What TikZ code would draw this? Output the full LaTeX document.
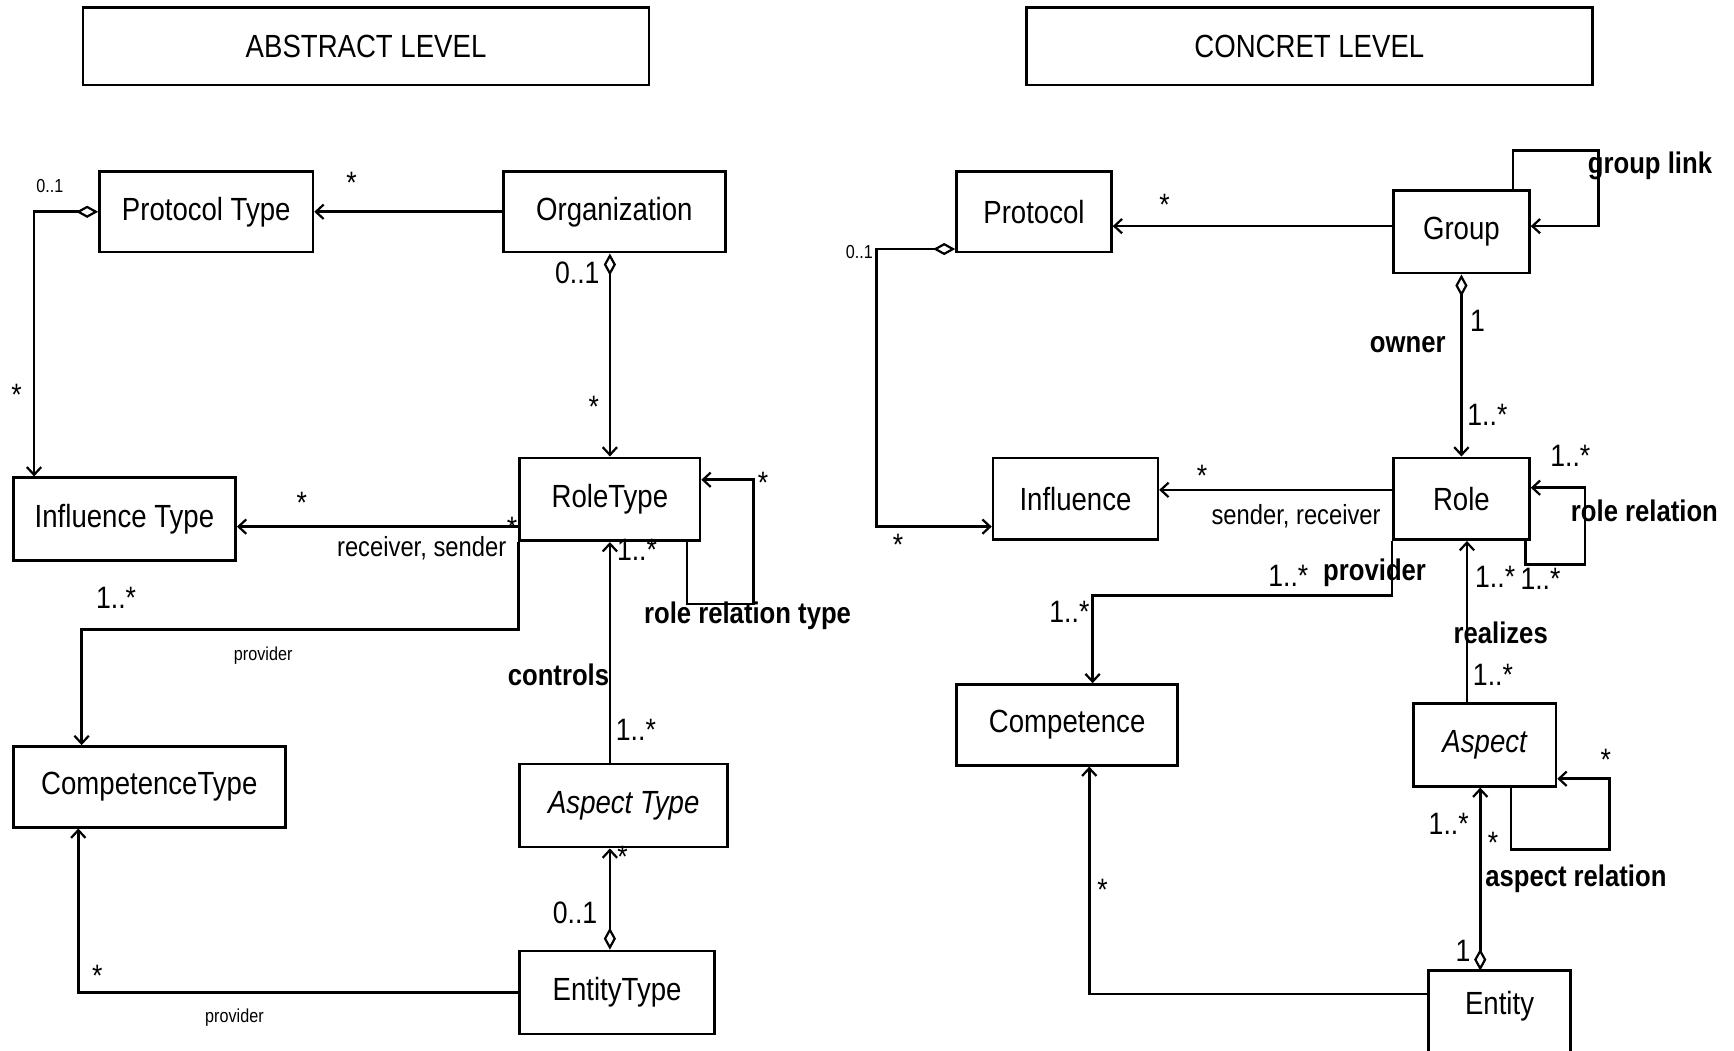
\documentclass[tikz,border=0pt]{standalone}
\usepackage{fontspec}
\setmainfont{Liberation Sans}[FakeStretch=0.86]
\usetikzlibrary{arrows.meta,calc}

\begin{document}
\begin{tikzpicture}[x=1pt,y=-1pt,
  every node/.style={inner sep=0pt},
  box/.style={draw, line width=2.4pt, inner sep=0pt, font=\fontsize{29}{32}\selectfont},
  lab/.style={font=\fontsize{28}{30}\selectfont},
  small/.style={font=\fontsize{17}{19}\selectfont},
  rel/.style={font=\fontsize{27}{30}\selectfont\bfseries},
  assoc/.style={line width=2.4pt},
  nav/.style={assoc, -{Straight Barb[length=7pt,width=13pt,line width=2pt]}},
  agg/.style={assoc, {Diamond[open,length=20pt,width=11pt,line width=2pt]}-{Straight Barb[length=7pt,width=13pt,line width=2pt]}},
]
\useasboundingbox (0,0) rectangle (1568,950);

% level headings
\node[box, minimum width=512pt, minimum height=70pt] (abs) at (331,42) {ABSTRACT LEVEL};
\node[box, minimum width=512pt, minimum height=70pt] (con) at (1184,42) {CONCRET LEVEL};

% ---------------- abstract level classes ----------------
\node[box, minimum width=193pt, minimum height=73pt] (pt)  at (186.5,191.5) {Protocol Type};
\node[box, minimum width=201pt, minimum height=73pt] (org) at (555.5,191.5) {Organization};
\node[box, minimum width=201pt, minimum height=75pt] (it)  at (112.5,469.5) {Influence Type};
\node[box, minimum width=163pt, minimum height=75pt] (rt)  at (551.5,451.5) {RoleType};
\node[box, minimum width=246pt, minimum height=73pt] (ct)  at (135,711.5) {CompetenceType};
\node[box, minimum width=188pt, minimum height=75pt] (at)  at (564,728.5) {\itshape Aspect Type};
\node[box, minimum width=176pt, minimum height=75pt] (et)  at (558,897.5) {EntityType};

% ---------------- concrete level classes ----------------
\node[box, minimum width=140pt, minimum height=73pt] (pr)  at (935,191.5) {Protocol};
\node[box, minimum width=123pt, minimum height=75pt] (gr)  at (1321.5,209.5) {Group};
\node[box, minimum width=149pt, minimum height=74pt] (inf) at (972.5,451) {Influence};
\node[box, minimum width=123pt, minimum height=74pt] (ro)  at (1321.5,451) {Role};
\node[box, minimum width=200pt, minimum height=73pt] (co)  at (965,655.5) {Competence};
\node[box, minimum width=129pt, minimum height=75pt] (as)  at (1342.5,673.5) {\itshape Aspect};
\node[box, draw=none, minimum width=126pt, minimum height=62pt] (en) at (1356,910) {Entity};
\draw[assoc] ($(en.south west)+(0,60)$) -- (en.north west) -- (en.north east) -- ($(en.south east)+(0,60)$);

% ---------------- abstract level associations ----------------
\draw[nav] (org.west) -- (pt.east);
\draw[agg] (pt.west) -| ($(it.north west)+(20,0)$);
\draw[agg] (rt.north |- org.south) -- (rt.north);
\draw[nav] ($(rt.south west)+(0,-14)$) coordinate (rtl) -- (rtl -| it.east);
\draw[nav] (rt.south west) -- ++(0,79) -| ($(ct.north west)+(63,0)$);
\draw[nav] (rt.south |- at.north) -- (rt.south);
\draw[nav] ($(rt.south east)+(-13,0)$) |- ++(60,56) |- ($(rt.north east)+(0,21)$);
\draw[agg] (rt.south |- et.north) -- (rt.south |- at.south);
\draw[nav] (et.west) -| ($(ct.south west)+(60,0)$);

% ---------------- concrete level associations ----------------
\coordinate (grl) at ($(gr.west)+(0,-5)$);
\coordinate (rol) at ($(ro.west)+(0,-8)$);
\coordinate (ros) at ($(ro.south)+(5,0)$);
\coordinate (asb) at ($(as.south)+(-4,0)$);
\draw[nav] (grl) -- (grl -| pr.east);
\draw[nav] ($(gr.north east)+(-16,0)$) |- ++(77,-35) |- ($(gr.east)+(0,-5)$);
\draw[agg] ($(pr.south west)+(0,-4)$) -- ++(-71,0) |- ($(inf.south west)+(0,-13)$);
\draw[nav] (rol) -- (rol -| inf.east);
\draw[agg] (gr.south) -- (ro.north);
\draw[nav] ($(ro.south east)+(-5,0)$) |- ++(54,21) |- ($(ro.east)+(0,-10)$);
\draw[nav] (ro.south west) -- ++(0,49) -| ($(co.north)+(23,0)$);
\draw[nav] (ros |- as.north) -- (ros);
\draw[nav] ($(as.south east)+(-42,0)$) |- ++(89,56) |- ($(as.south east)+(0,-8)$);
\draw[agg] (asb |- en.north) -- (asb);
\draw[nav] ($(en.north west)+(0,21)$) -| ($(co.south)+(20,0)$);

% ---------------- abstract level labels ----------------
\node[lab]   (a1)  at (318,165) {*};
\node[small] (a2)  at (45,168) {0..1};
\node[lab]   (a3)  at (15,357) {*};
\node[lab]   (a4)  at (522,247) {0..1};
\node[lab]   (a5)  at (537,368) {*};
\node[lab]   (a6)  at (273,455) {*};
\node[font=\fontsize{25}{27}\selectfont, anchor=east] (a7) at (458,496) {receiver, sender};
\node[lab]   (a8)  at (463,477) {*};
\node[lab]   (a9)  at (690,437) {*};
\node[rel]   (a10) at (676,557) {role relation type};
\node[lab]   (a11) at (576,497) {1..*};
\node[rel]   (a12) at (505,610) {controls};
\node[lab]   (a13) at (575,660) {1..*};
\node[lab]   (a14) at (105,541) {1..*};
\node[small] (a15) at (238,593) {provider};
\node[lab]   (a16) at (563,775) {*};
\node[lab]   (a17) at (520,825) {0..1};
\node[lab]   (a18) at (88,882) {*};
\node[small] (a19) at (212,920) {provider};

% ---------------- concrete level labels ----------------
\node[lab]   (c1)  at (1053,185) {*};
\node[rel]   (c2)  at (1492,150) {group link};
\node[small] (c3)  at (777,228) {0..1};
\node[lab]   (c4)  at (812,493) {*};
\node[lab]   (c5)  at (1336,290) {1};
\node[rel]   (c6)  at (1273,312) {owner};
\node[lab]   (c7)  at (1345,375) {1..*};
\node[lab]   (c8)  at (1087,430) {*};
\node[font=\fontsize{25}{27}\selectfont] (c9) at (1172,467) {sender, receiver};
\node[lab]   (c10) at (1420,412) {1..*};
\node[rel]   (c11) at (1487,462) {role relation};
\node[lab]   (c12) at (1165,521) {1..*};
\node[rel]   (c13) at (1243,518) {provider};
\node[lab]   (c14) at (1352,522) {1..*};
\node[lab]   (c15) at (1393,523) {1..*};
\node[lab]   (c16) at (967,553) {1..*};
\node[rel]   (c17) at (1357,572) {realizes};
\node[lab]   (c18) at (1350,610) {1..*};
\node[lab]   (c19) at (1452,687) {*};
\node[lab]   (c20) at (1310,745) {1..*};
\node[lab]   (c21) at (1350,762) {*};
\node[rel]   (c22) at (1425,795) {aspect relation};
\node[lab]   (c23) at (1323,860) {1};
\node[lab]   (c24) at (997,805) {*};
\end{tikzpicture}
\end{document}
